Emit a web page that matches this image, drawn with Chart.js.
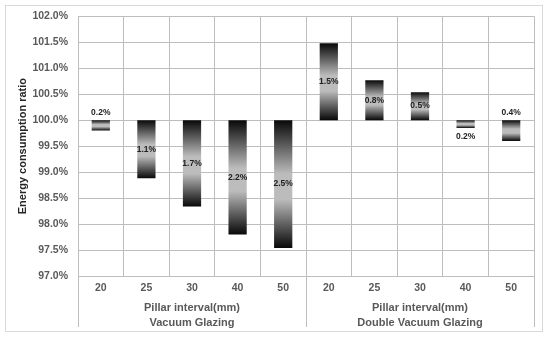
<!DOCTYPE html>
<html><head><meta charset="utf-8">
<script src="https://cdn.jsdelivr.net/npm/chart.js@4"></script>
<style>html,body{margin:0;padding:0;background:#fff}</style>
</head><body>
<canvas id="c" width="550" height="340" style="width:550px;height:340px;display:block"></canvas>
<script>
// ---- data ----
const categories = ['20','25','30','40','50','20','25','30','40','50'];
const groupLabels = [['Pillar interval(mm)','Vacuum Glazing'],['Pillar interval(mm)','Double Vacuum Glazing']];
const baseline = 100;
const ratioValues = [99.8, 98.88, 98.34, 97.8, 97.54, 101.48, 100.77, 100.54, 99.85, 99.6];
const changeLabels = ['0.2%','1.1%','1.7%','2.2%','2.5%','1.5%','0.8%','0.5%','0.2%','0.4%'];
const yMin = 97, yMax = 102, yStep = 0.5;
const labelAnchor = ['above','center','center','center','center','center','center','center','below','above'];

const GRID = '#bdbdbd';
const TICK = '#595959';

function barGradient(ctx){
  const chart = ctx.chart;
  const y = chart.scales && chart.scales.y;
  if (ctx.dataIndex === undefined || !y || !chart.chartArea) return '#888';
  const v = ratioValues[ctx.dataIndex];
  const p0 = y.getPixelForValue(baseline), p1 = y.getPixelForValue(v);
  const top = Math.min(p0,p1), bot = Math.max(p0,p1);
  const g = chart.ctx.createLinearGradient(0, top, 0, bot);
  g.addColorStop(0, '#080808');
  g.addColorStop(0.42, '#bcbcbc');
  g.addColorStop(0.62, '#bcbcbc');
  g.addColorStop(1, '#080808');
  return g;
}

const framePlugin = {
  id: 'frame',
  beforeDraw(chart){
    const c = chart.ctx;
    c.save();
    c.fillStyle = '#fff';
    c.fillRect(0,0,chart.width,chart.height);
    c.strokeStyle = '#d9d9d9';
    c.lineWidth = 1;
    c.strokeRect(5.5, 5.5, 537, 326);
    c.restore();
  },
  afterDraw(chart){
    const x = chart.scales.x, area = chart.chartArea;
    const c = chart.ctx;
    const mid = (x.getPixelForValue(4) + x.getPixelForValue(5)) / 2;
    c.save();
    c.strokeStyle = GRID;
    c.lineWidth = 1;
    [x.left, mid, x.right].forEach(px => {
      const xx = Math.round(px) + 0.5;
      c.beginPath(); c.moveTo(xx, area.bottom); c.lineTo(xx, 327); c.stroke();
    });
    c.restore();
  }
};

const labelPlugin = {
  id: 'barLabels',
  afterDatasetsDraw(chart){
    const meta = chart.getDatasetMeta(0);
    const c = chart.ctx;
    c.save();
    c.font = 'bold 8.5px "Liberation Sans", Arial, sans-serif';
    c.fillStyle = '#222';
    c.textAlign = 'center';
    c.textBaseline = 'middle';
    meta.data.forEach((el, i) => {
      const top = Math.min(el.y, el.base), bot = Math.max(el.y, el.base);
      let ty;
      if (labelAnchor[i] === 'above') ty = top - 8;
      else if (labelAnchor[i] === 'below') ty = bot + 9;
      else ty = (top + bot) / 2;
      c.fillText(changeLabels[i], el.x, ty);
    });
    c.restore();
  }
};

new Chart(document.getElementById('c'), {
  type: 'bar',
  data: {
    labels: categories,
    datasets: [{
      data: ratioValues.map(v => [baseline, v]),
      backgroundColor: barGradient,
      borderWidth: 0,
      barPercentage: 0.4,
      categoryPercentage: 1.0
    }]
  },
  options: {
    responsive: false,
    animation: false,
    devicePixelRatio: 1,
    layout: { padding: { top: 16, right: 16, left: 0, bottom: 4 } },
    plugins: { legend: { display: false }, tooltip: { enabled: false } },
    scales: {
      y: {
        min: yMin, max: yMax,
        afterFit(s){ s.width = 78; },
        ticks: {
          stepSize: yStep,
          padding: 10,
          color: TICK,
          font: { family: '"Liberation Sans", Arial, sans-serif', size: 10.5, weight: 'bold' },
          callback: v => Number(v).toFixed(1) + '%'
        },
        grid: { color: GRID, drawTicks: false },
        border: { color: GRID },
        title: {
          display: true,
          text: 'Energy consumption ratio',
          color: '#262626',
          padding: { top: 16, bottom: 0 },
          font: { family: '"Liberation Sans", Arial, sans-serif', size: 11, weight: 'bold' }
        }
      },
      x: {
        afterFit(s){ s.height = 20; },
        offset: true,
        grid: { color: GRID, drawTicks: false, offset: true },
        border: { color: GRID },
        ticks: {
          padding: 6,
          color: TICK,
          maxRotation: 0,
          font: { family: '"Liberation Sans", Arial, sans-serif', size: 10.5, weight: 'bold' }
        }
      },
      x2: {
        type: 'category',
        position: 'bottom',
        labels: groupLabels,
        offset: true,
        afterFit(s){ s.height = 40; },
        grid: { display: false, drawTicks: false },
        border: { display: false },
        ticks: {
          padding: 4,
          color: TICK,
          maxRotation: 0,
          font: { family: '"Liberation Sans", Arial, sans-serif', size: 11, weight: 'bold', lineHeight: '15px' }
        }
      }
    }
  },
  plugins: [framePlugin, labelPlugin]
});
</script>
</body></html>
